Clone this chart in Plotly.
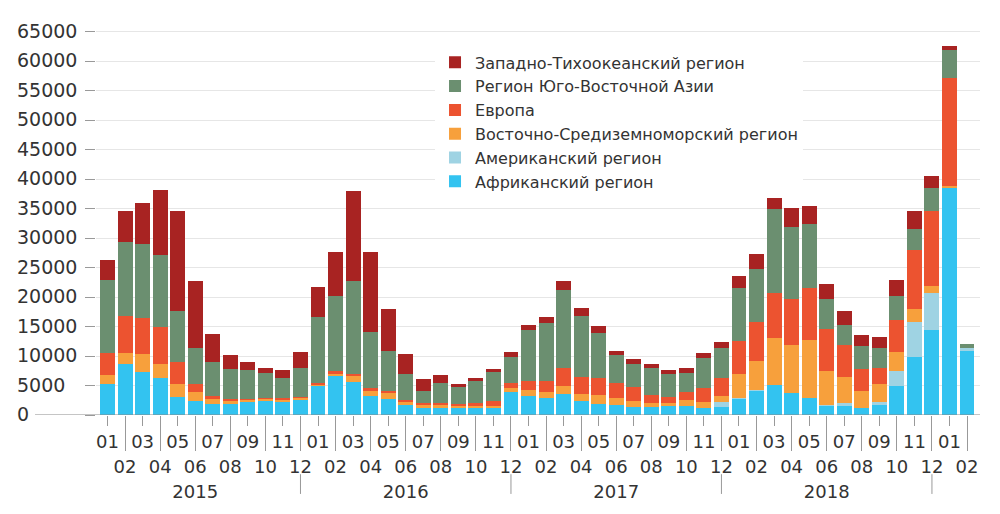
import plotly.graph_objects as go

months = [f"{y}-{m:02d}" for y in range(2015, 2020) for m in range(1, 13)][:50]

africa = [5250, 8650, 7250, 6200, 3130, 2400, 1800, 1800, 2200, 2500, 2200, 2500,
          5000, 6600, 5650, 3150, 2750, 1750, 1200, 1350, 1350, 1200, 1200, 3900,
          3160, 2900, 3550, 2300, 1930, 1760, 1430, 1370, 1480, 1590, 1200, 1310,
          2820, 4110, 5060, 3770, 2880, 1650, 1650, 1200, 1720, 4950, 9870, 14450,
          38540, 11000]
americas = [0] * 12 + [0] * 12 + [0] * 11 + [840] + \
           [80, 50, 0, 0, 0, 100, 330, 0, 560, 2570, 5920, 6150, 0, 300]
emed = [1550, 1850, 3150, 2450, 2120, 1450, 950, 650, 450, 250, 500, 400,
        200, 350, 1050, 1000, 1050, 550, 550, 300, 250, 300, 350, 750,
        1120, 1000, 1300, 1250, 1510, 1120, 1000, 730, 620, 900, 1010, 1010,
        4080, 4920, 8050, 8060, 9890, 5700, 4480, 2800, 3020, 3130, 2240, 1340,
        200, 0]
europe = [3650, 6300, 6100, 6350, 3800, 1400, 450, 200, 100, 100, 100, 100,
          250, 500, 250, 400, 300, 300, 300, 400, 250, 600, 900, 750,
          1400, 1900, 3050, 2900, 2790, 2510, 2290, 1340, 1000, 1400, 2350, 3070,
          5590, 6710, 7490, 7820, 8720, 7210, 5360, 3740, 2740, 5480, 9950, 12640,
          18450, 0]
sea = [12450, 12500, 12450, 12200, 8650, 6050, 5850, 5150, 4850, 4350, 3450, 4950,
       11100, 12700, 15750, 9600, 6700, 4350, 2050, 3350, 2850, 3700, 4800, 4400,
       8800, 9800, 13300, 10400, 7720, 4700, 3860, 4470, 3860, 3240, 5030, 5150,
       9010, 8940, 14310, 12240, 10960, 5030, 3470, 3920, 3350, 4080, 3580, 3910,
       4640, 750]
wpac = [3300, 5200, 6950, 10900, 16900, 11350, 4650, 2400, 1400, 850, 1450, 2750,
        5200, 7550, 15250, 13550, 7200, 3350, 2000, 1300, 600, 450, 500, 900,
        850, 950, 1500, 1300, 1100, 780, 840, 670, 730, 780, 890, 950,
        2000, 2520, 3190, 3190, 3020, 2460, 2290, 1950, 1900, 2630, 3020, 2070,
        670, 0]

series_names = ["Африканский регион", "Американский регион",
                "Восточно-Средиземноморский регион", "Европа",
                "Регион Юго-Восточной Азии", "Западно-Тихоокеанский регион"]
series_values = [africa, americas, emed, europe, sea, wpac]
series_colors = ["#33c3f0", "#9fd3e3", "#f7a03c", "#ec5330", "#6b8f70", "#a82322"]

year_labels = ["2015", "2016", "2017", "2018"]
y_ticks = list(range(0, 65001, 5000))

x = list(range(len(months)))
month_text = [m[-2:] for m in months]

FONT = "DejaVu Sans"
TXT = "#333333"

fig = go.Figure()
for name, vals, col in zip(series_names, series_values, series_colors):
    fig.add_trace(go.Bar(x=x, y=vals, name=name, marker=dict(color=col, line=dict(width=0)),
                         hovertext=months))

# helper invisible traces so the overlay axes (even months, years) are drawn
fig.add_trace(go.Scatter(x=[0], y=[0], xaxis="x2", yaxis="y", mode="markers",
                         marker=dict(opacity=0), showlegend=False, hoverinfo="skip"))
fig.add_trace(go.Scatter(x=[0], y=[0], xaxis="x3", yaxis="y", mode="markers",
                         marker=dict(opacity=0), showlegend=False, hoverinfo="skip"))

xr = [-0.656, 49.74]
yr = [0, 65600]
odd = x[0::2]
even = x[1::2]

fig.update_layout(
    width=1000, height=514,
    margin=dict(l=12, r=20, t=28, b=94),
    barmode="stack", bargap=0.15,
    plot_bgcolor="white", paper_bgcolor="white",
    font=dict(family=FONT, size=18, color=TXT),
    xaxis=dict(domain=[0.0868, 1], range=xr, tickmode="array",
               tickvals=odd, ticktext=[month_text[i] for i in odd],
               ticks="outside", ticklen=10, tickcolor="#999999", tickwidth=1,
               showgrid=False, zeroline=False, showline=False,
               tickfont=dict(family=FONT, size=18, color=TXT)),
    xaxis2=dict(overlaying="x", matches="x", range=xr, anchor="y", side="bottom",
                tickmode="array", tickvals=even, ticktext=[month_text[i] for i in even],
                ticks="outside", ticklen=35, tickcolor="#999999", tickwidth=1,
                showgrid=False, zeroline=False, showline=False,
                tickfont=dict(family=FONT, size=18, color=TXT)),
    xaxis3=dict(overlaying="x", matches="x", range=xr, anchor="y", side="bottom",
                tickmode="array", tickvals=[5, 17, 29, 41], ticktext=year_labels,
                ticks="outside", ticklen=60, tickcolor="rgba(0,0,0,0)",
                showgrid=False, zeroline=False, showline=False,
                tickfont=dict(family=FONT, size=18, color=TXT)),
    yaxis=dict(range=yr, tickmode="array", tickvals=y_ticks, showticklabels=False,
               ticks="outside", ticklen=10, tickcolor="#999999", tickwidth=1,
               showgrid=True, gridcolor="#e6e6e6", gridwidth=1,
               zeroline=False, showline=False),
    legend=dict(x=0.437, y=0.955, xanchor="left", yanchor="top",
                traceorder="reversed", bgcolor="white",
                font=dict(family=FONT, size=16, color=TXT)),
    showlegend=True,
)

# y tick labels, left-aligned, placed on the y scale
annotations = [dict(x=0.0031, xref="paper", y=v, yref="y", text=str(v),
                    showarrow=False, xanchor="left", yanchor="middle", yshift=1,
                    font=dict(family=FONT, size=19, color=TXT))
               for v in y_ticks]

shapes = [dict(type="line", xref="paper", yref="y", x0=0.0238, x1=1, y0=0, y1=0,
               line=dict(color="#8a8a8a", width=1))]
for sep in [11, 23, 35, 47]:
    shapes.append(dict(type="line", xref="x", yref="paper", x0=sep, x1=sep,
                       y0=-0.153, y1=-0.204, line=dict(color="#999999", width=1)))
fig.update_layout(shapes=shapes, annotations=annotations)

fig.write_html("out.html", config={"displayModeBar": False},
               post_script="document.body.style.margin='0';document.body.style.padding='0';")
